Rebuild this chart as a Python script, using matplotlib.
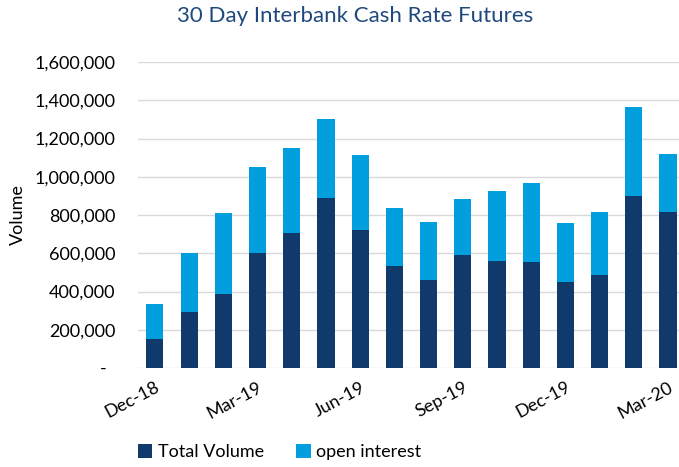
import matplotlib
matplotlib.use("Agg")
import matplotlib.pyplot as plt
from matplotlib.ticker import FuncFormatter
import numpy as np

plt.rcParams['font.family'] = ['Lato', 'DejaVu Sans']

# Data
months = ['Dec-18', 'Jan-19', 'Feb-19', 'Mar-19', 'Apr-19', 'May-19', 'Jun-19', 'Jul-19',
          'Aug-19', 'Sep-19', 'Oct-19', 'Nov-19', 'Dec-19', 'Jan-20', 'Feb-20', 'Mar-20']
total_volume = [150000, 292000, 386000, 600000, 705000, 891000, 721000, 535000,
                460000, 592000, 559000, 554000, 449000, 489000, 900000, 815000]
bar_tops = [336000, 603000, 811000, 1052000, 1149000, 1302000, 1116000, 836000,
            764000, 886000, 928000, 966000, 756000, 818000, 1363000, 1120000]
open_interest = [t - v for t, v in zip(bar_tops, total_volume)]

dark = '#0F3A6B'
light = '#029FDE'

fig = plt.figure(figsize=(6.79, 4.67), dpi=100)
ax = fig.add_axes([0.203, 0.212, 0.806, 0.655])

x = np.arange(len(months))
ax.bar(x, total_volume, width=0.5, color=dark, label='Total Volume', zorder=3)
ax.bar(x, open_interest, width=0.5, bottom=total_volume, color=light,
       label='open interest', zorder=3)

ax.set_xlim(-0.5, len(months) - 0.5)
ax.set_ylim(0, 1600000)
ax.set_yticks(np.arange(0, 1600001, 200000))
ax.yaxis.set_major_formatter(FuncFormatter(lambda v, p: '-  ' if v == 0 else f'{int(v):,}'))
ax.grid(axis='y', color='#D9D9D9', linewidth=1, zorder=0)
for s in ax.spines.values():
    s.set_visible(False)
ax.tick_params(axis='both', length=0, labelsize=13, colors='#000000')
ax.tick_params(axis='y', pad=16)

ax.set_xticks(x[::3])
ax.set_xticklabels(months[::3], rotation=28, ha='right', rotation_mode='anchor', fontsize=13)
ax.tick_params(axis='x', pad=8)

ax.set_ylabel('Volume', fontsize=13, labelpad=6)
fig.text(0.523, 0.966, '30 Day Interbank Cash Rate Futures', fontsize=16,
         color='#1F497D', ha='center', va='center')

fig.legend(*ax.get_legend_handles_labels(), loc='center', bbox_to_anchor=(0.412, 0.032),
           ncol=2, frameon=False, fontsize=13, handlelength=0.8, handleheight=0.8,
           handletextpad=0.3, columnspacing=1.8)

plt.savefig('out.png', dpi=100)
